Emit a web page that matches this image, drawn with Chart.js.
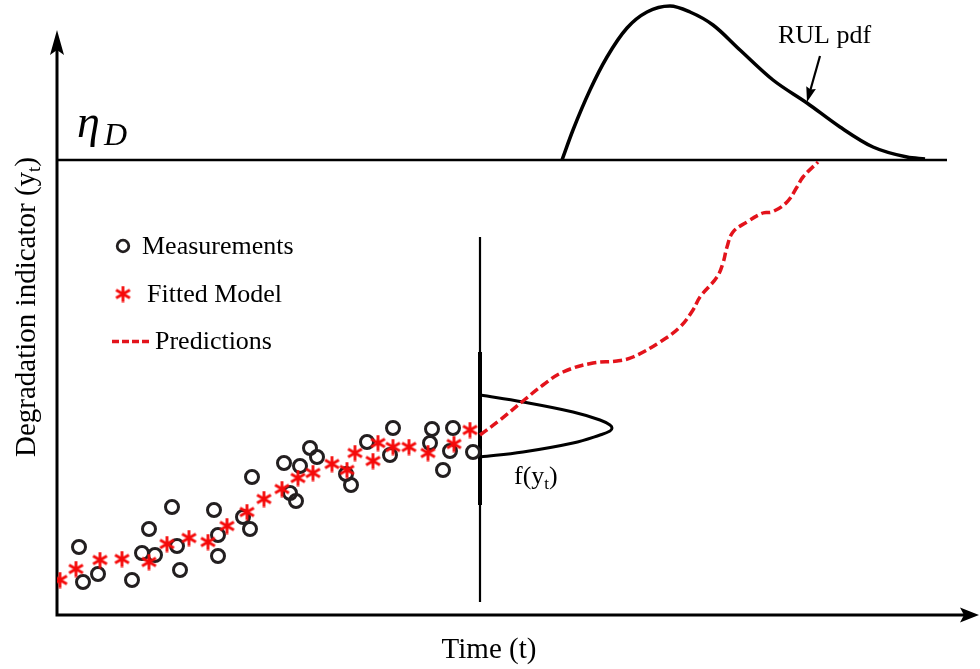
<!DOCTYPE html>
<html>
<head>
<meta charset="utf-8">
<title>Degradation indicator and RUL prediction</title>
<script src="https://cdn.jsdelivr.net/npm/chart.js@4.4.0/dist/chart.umd.min.js"></script>
<style>
    html, body { margin: 0; padding: 0; background: #ffffff; }
    #the-graph { display: block; }
</style>
</head>
<body>
<canvas id="the-graph" width="980" height="669"></canvas>
<script>
/*
 *  Data (time t, degradation indicator y_t, arbitrary units)
 */

const measureT = [2.2, 2.6, 4.1, 7.5, 8.5, 9.2, 9.8, 11.5, 12.0, 12.3, 15.7, 16.1, 16.1, 18.6, 19.3, 19.5,
    22.7, 23.3, 23.9, 24.3, 25.3, 26.0, 28.9, 29.4, 31.0, 33.6, 33.3, 37.5, 37.3, 38.6, 39.6, 39.3, 41.6];
const measureY = [6.8, 3.3, 4.1, 3.5, 6.2, 8.6, 6.0, 10.8, 6.9, 4.5, 10.5, 8.0, 5.9, 9.8, 8.6, 13.8,
    15.2, 12.2, 11.4, 14.9, 16.7, 15.8, 14.1, 13.0, 17.3, 18.7, 16.0, 18.6, 17.2, 14.5, 18.7, 16.4, 16.3];

const fittedT = [0.3, 1.9, 4.3, 6.5, 9.2, 11.0, 13.2, 15.1, 17.0, 19.0, 20.7, 22.5, 24.1, 25.6, 27.5, 29.0,
    29.8, 31.6, 32.1, 33.6, 35.2, 37.1, 39.7, 41.3];
const fittedY = [3.5, 4.6, 5.5, 5.6, 5.3, 7.1, 7.7, 7.3, 8.9, 10.3, 11.6, 12.6, 13.7, 14.2, 15.1, 14.5,
    16.2, 15.4, 17.2, 16.8, 16.8, 16.2, 17.1, 18.5];

const predT = [42.3, 44.3, 46.6, 48.6, 50.6, 53.6, 56.0, 57.6, 60.3, 62.3, 63.6, 64.3, 66.0, 66.6, 67.0,
    67.6, 69.0, 70.6, 71.5, 73.0, 74.0, 74.6, 76.1];
const predY = [18.0, 19.5, 21.4, 23.0, 24.3, 25.2, 25.4, 25.8, 27.3, 28.8, 30.5, 31.8, 33.8, 35.2, 36.8,
    38.3, 39.3, 40.2, 40.3, 41.3, 42.8, 43.8, 45.3];

const rulT = [50.5, 51.6, 53.3, 55.0, 57.0, 59.0, 61.3, 63.3, 65.6, 68.3, 71.6, 75.0, 78.3, 81.6, 85.0, 86.8];
const rulY = [45.5, 48.5, 52.5, 55.8, 58.7, 60.3, 60.9, 60.3, 59.0, 56.5, 53.5, 51.2, 48.8, 46.8, 45.8, 45.6];

// f(y_t), drawn sideways at the current time
const pdfT = [42.3, 46.6, 51.6, 54.3, 55.3, 55.5, 55.3, 54.3, 51.6, 46.6, 42.3];
const pdfY = [22.0, 21.3, 20.3, 19.5, 19.0, 18.7, 18.4, 18.0, 17.2, 16.3, 15.8];

const threshold = 45.5;          // eta_D
const thresholdEnd = 89.0;
const currentTime = 42.3;
const nowLine = [1.3, 37.8];
const nowLineBold = [11.0, 26.3];
const timeMax = 92.3, yMax = 61.5;
const yAxisTop = 58.5;

const RED = '#f50a0a';
const DASHRED = '#e3131b';
const INK = '#231f20';
const SERIF = '"Liberation Serif", "Times New Roman", serif';

let graph, content, asterisk;

function pts(xs, ys)
{
    return xs.map((x, i) => ({x: x, y: ys[i]}));
}

function makeAsterisk(size, color, width)
{
    let c = document.createElement('canvas');
    c.width = size;
    c.height = size;
    let g = c.getContext('2d');
    g.strokeStyle = color;
    g.lineWidth = width;
    g.translate(size / 2, size / 2);
    let r = size / 2 - 0.5;
    for(let k = 0; k < 3; k++)
    {
        let a = Math.PI / 2 + k * Math.PI / 3;
        g.beginPath();
        g.moveTo(-r * Math.cos(a), -r * Math.sin(a));
        g.lineTo(r * Math.cos(a), r * Math.sin(a));
        g.stroke();
    }
    return c;
}

function arrowHead(ctx, tipX, tipY, dx, dy, len, half, notch)
{
    let nx = -dy, ny = dx;
    let bx = tipX - dx * len, by = tipY - dy * len;
    ctx.beginPath();
    ctx.moveTo(tipX, tipY);
    ctx.lineTo(bx + nx * half, by + ny * half);
    ctx.lineTo(tipX - dx * (len - notch), tipY - dy * (len - notch));
    ctx.lineTo(bx - nx * half, by - ny * half);
    ctx.closePath();
    ctx.fill();
}

function richText(ctx, parts, x, y, align)
{
    let total = 0;
    parts.forEach(p => { ctx.font = p.font; p.w = ctx.measureText(p.text).width; total += p.w; });
    let cx = align === 'center' ? x - total / 2 : x;
    parts.forEach(p => {
        ctx.font = p.font;
        ctx.fillText(p.text, cx, y + (p.dy || 0));
        cx += p.w;
    });
}

/*
 *  Axes with arrows, labels, legend and annotations
 */

const decor = {
    id: 'decor',
    beforeDatasetsDraw(chart)
    {
        let ctx = chart.ctx, sx = chart.scales.x, sy = chart.scales.y;
        let x0 = sx.getPixelForValue(0), y0 = sy.getPixelForValue(0);
        let yTop = sy.getPixelForValue(yAxisTop);
        let xEnd = chart.width - 1;
        ctx.save();
        ctx.strokeStyle = '#000';
        ctx.fillStyle = '#000';
        ctx.lineWidth = 3;
        ctx.lineJoin = 'miter';
        ctx.beginPath();
        ctx.moveTo(x0, yTop + 20);
        ctx.lineTo(x0, y0);
        ctx.lineTo(xEnd - 14, y0);
        ctx.stroke();
        arrowHead(ctx, x0, yTop, 0, -1, 25, 7, 5);
        arrowHead(ctx, xEnd, y0, 1, 0, 19, 7.5, 4);
        ctx.restore();
    },
    afterDatasetsDraw(chart)
    {
        let ctx = chart.ctx, sx = chart.scales.x, sy = chart.scales.y;
        const X = v => sx.getPixelForValue(v);
        const Y = v => sy.getPixelForValue(v);
        ctx.save();
        ctx.fillStyle = '#000';
        ctx.textAlign = 'left';
        ctx.textBaseline = 'alphabetic';

        // threshold label
        ctx.font = 'italic 46px ' + SERIF;
        ctx.fillText('\u03B7', X(2.0), Y(47.8));
        ctx.font = 'italic 32px ' + SERIF;
        ctx.fillText('D', X(4.7), Y(47.0));

        // RUL pdf label and pointer
        ctx.font = '26px ' + SERIF;
        ctx.fillText('RUL pdf', X(72.1), Y(57.2));
        ctx.strokeStyle = '#000';
        ctx.lineWidth = 2.2;
        let ax = X(76.3), ay = Y(55.9), bx = X(75.0), by = Y(51.3);
        let len = Math.hypot(bx - ax, by - ay);
        let ux = (bx - ax) / len, uy = (by - ay) / len;
        ctx.beginPath();
        ctx.moveTo(ax, ay);
        ctx.lineTo(bx - ux * 8, by - uy * 8);
        ctx.stroke();
        arrowHead(ctx, bx, by, ux, uy, 15, 5, 2);

        // f(y_t)
        richText(ctx, [
            {text: 'f(y', font: '26px ' + SERIF},
            {text: 't', font: '17px ' + SERIF, dy: 5},
            {text: ')', font: '26px ' + SERIF}
        ], X(45.7), Y(13.1), 'left');

        // axis titles
        richText(ctx, [{text: 'Time (t)', font: '29px ' + SERIF}], X(43.2), Y(-4.3), 'center');
        ctx.save();
        ctx.translate(X(-2.2), Y(30.8));
        ctx.rotate(-Math.PI / 2);
        richText(ctx, [
            {text: 'Degradation indicator (y', font: '29px ' + SERIF},
            {text: 't', font: '19px ' + SERIF, dy: 5},
            {text: ')', font: '29px ' + SERIF}
        ], 0, 0, 'center');
        ctx.restore();

        // legend
        ctx.font = '26px ' + SERIF;
        ctx.strokeStyle = INK;
        ctx.lineWidth = 2.8;
        ctx.beginPath();
        ctx.arc(X(6.6), Y(36.9), 5.8, 0, Math.PI * 2);
        ctx.stroke();
        ctx.fillText('Measurements', X(8.5), Y(36.1));
        ctx.drawImage(asterisk, X(6.6) - asterisk.width / 2, Y(32.1) - asterisk.height / 2);
        ctx.fillText('Fitted Model', X(9.0), Y(31.3));
        ctx.strokeStyle = DASHRED;
        ctx.lineWidth = 3.5;
        ctx.setLineDash([7, 3]);
        ctx.beginPath();
        ctx.moveTo(X(5.5), Y(27.35));
        ctx.lineTo(X(9.2), Y(27.35));
        ctx.stroke();
        ctx.setLineDash([]);
        ctx.fillText('Predictions', X(9.8), Y(26.6));
        ctx.restore();
    }
};

/*
 *  Chart
 */

document.addEventListener("DOMContentLoaded", ()=> {
    content = document.getElementById('the-graph').getContext('2d');
    asterisk = makeAsterisk(17, RED, 2.8);
    graph = new Chart(content, {
        type: 'scatter',
        data: {
            datasets: [
                {
                    label: 'Fitted Model',
                    data: pts(fittedT, fittedY),
                    pointStyle: asterisk,
                    pointRadius: 7,
                },
                {
                    label: 'Predictions',
                    data: pts(predT, predY),
                    showLine: true,
                    borderColor: DASHRED,
                    borderWidth: 3.5,
                    borderDash: [9, 4],
                    tension: 0.4,
                    pointRadius: 0,
                },
                {
                    label: 'Measurements',
                    data: pts(measureT, measureY),
                    pointStyle: 'circle',
                    pointRadius: 6.5,
                    pointBorderWidth: 3,
                    borderColor: INK,
                    backgroundColor: 'rgba(0,0,0,0)',
                },
                {
                    label: 'f(y_t)',
                    data: pts(pdfT, pdfY),
                    showLine: true,
                    borderColor: '#000',
                    borderWidth: 3,
                    tension: 0.4,
                    pointRadius: 0,
                },
                {
                    label: 'current time (bold)',
                    data: [{x: currentTime, y: nowLineBold[0]}, {x: currentTime, y: nowLineBold[1]}],
                    showLine: true,
                    borderColor: '#000',
                    borderWidth: 4,
                    pointRadius: 0,
                },
                {
                    label: 'current time',
                    data: [{x: currentTime, y: nowLine[0]}, {x: currentTime, y: nowLine[1]}],
                    showLine: true,
                    borderColor: '#000',
                    borderWidth: 2.2,
                    pointRadius: 0,
                },
                {
                    label: 'eta_D',
                    data: [{x: 0, y: threshold}, {x: thresholdEnd, y: threshold}],
                    showLine: true,
                    borderColor: '#000',
                    borderWidth: 2.4,
                    pointRadius: 0,
                },
                {
                    label: 'RUL pdf',
                    data: pts(rulT, rulY),
                    showLine: true,
                    borderColor: '#000',
                    borderWidth: 3.5,
                    cubicInterpolationMode: 'monotone',
                    pointRadius: 0,
                },
            ]
        },
        options: {
            responsive: false,
            animation: false,
            events: [],
            layout: { autoPadding: false, padding: { left: 57, right: 0, top: 0, bottom: 54 } },
            scales: {
                x: { type: 'linear', min: 0, max: timeMax, display: false },
                y: { type: 'linear', min: 0, max: yMax, display: false }
            },
            plugins: {
                legend: { display: false },
                tooltip: { enabled: false }
            }
        },
        plugins: [decor]
    });
});
</script>
</body>
</html>
